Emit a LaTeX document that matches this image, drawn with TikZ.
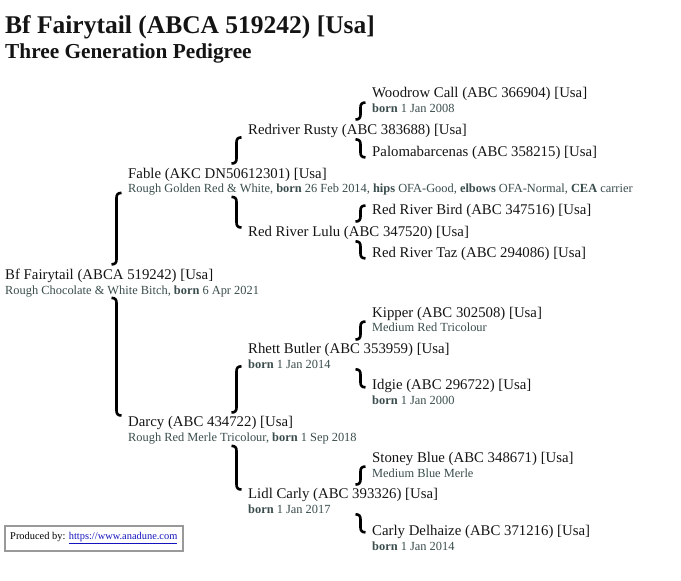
\documentclass[tikz,border=0pt]{standalone}
\usepackage{fontspec}
\setmainfont{Liberation Serif}
\usetikzlibrary{calc}
\definecolor{namecol}{RGB}{20,20,20}
\definecolor{infocol}{RGB}{58,76,76}
\definecolor{linkcol}{RGB}{20,20,190}

\begin{document}
\begin{tikzpicture}[x=1pt,y=-1pt,
   every node/.style={inner sep=0pt,anchor=base west},
   heading/.style={font=\bfseries\fontsize{25.5}{28}\selectfont,text=namecol},
   subheading/.style={font=\bfseries\fontsize{21.3}{24}\selectfont,text=namecol},
   dog/.style={font=\fontsize{14.8}{17}\selectfont,text=namecol},
   info/.style={font=\fontsize{12.4}{14}\selectfont,text=infocol},
   sire/.style={line width=2.6pt,to path={
      let \p1=(\tikztostart), \p2=(\tikztotarget) in
      (\x1+5pt,\y1) .. controls (\x1+1.5pt,\y1) and (\x1,\y1-1.5pt) .. (\x1,\y1-5pt)
      -- (\x1,\y2+5pt) .. controls (\x1,\y2+1.5pt) and (\x1-1.5pt,\y2) .. (\x1-5pt,\y2)}},
   dam/.style={line width=2.6pt,to path={
      let \p1=(\tikztostart), \p2=(\tikztotarget) in
      (\x1-5pt,\y1) .. controls (\x1-1.5pt,\y1) and (\x1,\y1-1.5pt) .. (\x1,\y1-5pt)
      -- (\x1,\y2+5pt) .. controls (\x1,\y2+1.5pt) and (\x1+1.5pt,\y2) .. (\x1+5pt,\y2)}},
   credit/.style={draw=black!40,line width=1.6pt,anchor=north west,
      minimum width=178pt,minimum height=25pt,
      font=\fontsize{10.4}{12}\selectfont}]

\useasboundingbox (0,0) rectangle (681,581);

\node[heading] (head) at (5,33) {Bf Fairytail (ABCA 519242) [Usa]};
\node[subheading] (subhead) at (5,58) {Three Generation Pedigree};

% the dog itself
\node[dog] (root) at (5,279) {Bf Fairytail (ABCA 519242) [Usa]};
\node[info] (root-i) at (5,294) {Rough Chocolate \& White Bitch, \textbf{born} 6 Apr 2021};

% parents
\node[dog] (fable) at (128,178) {Fable (AKC DN50612301) [Usa]};
\node[info] (fable-i) at (128,192) {Rough Golden Red \& White, \textbf{born} 26 Feb 2014, \textbf{hips} OFA-Good, \textbf{elbows} OFA-Normal, \textbf{CEA} carrier};
\node[dog] (darcy) at (128,426) {Darcy (ABC 434722) [Usa]};
\node[info] (darcy-i) at (128,441) {Rough Red Merle Tricolour, \textbf{born} 1 Sep 2018};

% grandparents
\node[dog] (rusty) at (248,134) {Redriver Rusty (ABC 383688) [Usa]};
\node[dog] (lulu) at (248,236) {Red River Lulu (ABC 347520) [Usa]};
\node[dog] (rhett) at (248,353) {Rhett Butler (ABC 353959) [Usa]};
\node[info] (rhett-i) at (248,368) {\textbf{born} 1 Jan 2014};
\node[dog] (lidl) at (248,498) {Lidl Carly (ABC 393326) [Usa]};
\node[info] (lidl-i) at (248,513) {\textbf{born} 1 Jan 2017};

% great-grandparents
\node[dog] (woodrow) at (372,97) {Woodrow Call (ABC 366904) [Usa]};
\node[info] (woodrow-i) at (372,112) {\textbf{born} 1 Jan 2008};
\node[dog] (paloma) at (372,156) {Palomabarcenas (ABC 358215) [Usa]};
\node[dog] (bird) at (372,214) {Red River Bird (ABC 347516) [Usa]};
\node[dog] (taz) at (372,257) {Red River Taz (ABC 294086) [Usa]};
\node[dog] (kipper) at (372,317) {Kipper (ABC 302508) [Usa]};
\node[info] (kipper-i) at (372,331) {Medium Red Tricolour};
\node[dog] (idgie) at (372,389) {Idgie (ABC 296722) [Usa]};
\node[info] (idgie-i) at (372,404) {\textbf{born} 1 Jan 2000};
\node[dog] (stoney) at (372,462) {Stoney Blue (ABC 348671) [Usa]};
\node[info] (stoney-i) at (372,477) {Medium Blue Merle};
\node[dog] (carly) at (372,535) {Carly Delhaize (ABC 371216) [Usa]};
\node[info] (carly-i) at (372,550) {\textbf{born} 1 Jan 2014};

\node[credit] (producer) at (4,525) {Produced by: \textcolor{linkcol}{\underline{https://www.anadune.com}}};

% brackets
\draw[sire] ($(fable-i.south west)+(-11.5,-2)$) to ($(root.north)+(0,-4)$);
\draw[dam] ($(darcy.west |- root-i.south)+(-11.5,1)$) to (darcy.north);

\draw[sire] ($(rusty.south west)+(-11.5,0)$) to ($(fable.north)+(0,-4)$);
\draw[dam] ($(lulu.west |- fable-i.south)+(-11.5,2)$) to ($(lulu.north)+(0,2)$);
\draw[sire] ($(rhett-i.south west)+(-11.5,-2)$) to ($(darcy.north)+(0,-3)$);
\draw[dam] ($(lidl.west |- darcy-i.south)+(-11.5,2)$) to ($(lidl.north)+(0,2)$);

\draw[sire] ($(woodrow.west |- rusty.north)+(-11.5,-21)$) to ($(rusty.north)+(0,-4)$);
\draw[dam] ($(paloma.west |- rusty.south)+(-11.5,2)$) to ($(rusty.south)+(0,20)$);
\draw[sire] ($(bird.west |- lulu.north)+(-11.5,-20)$) to ($(lulu.north)+(0,-4)$);
\draw[dam] ($(taz.west |- lulu.south)+(-11.5,2)$) to ($(lulu.south)+(0,19)$);
\draw[sire] ($(kipper.west |- rhett.north)+(-11.5,-21)$) to ($(rhett.north)+(0,-3)$);
\draw[dam] ($(idgie.west |- rhett-i.south)+(-11.5,1)$) to ($(rhett-i.south)+(0,19)$);
\draw[sire] ($(stoney.west |- lidl.north)+(-11.5,-21)$) to ($(lidl.north)+(0,-3)$);
\draw[dam] ($(carly.west |- lidl-i.south)+(-11.5,1)$) to ($(lidl-i.south)+(0,19)$);

\end{tikzpicture}
\end{document}
